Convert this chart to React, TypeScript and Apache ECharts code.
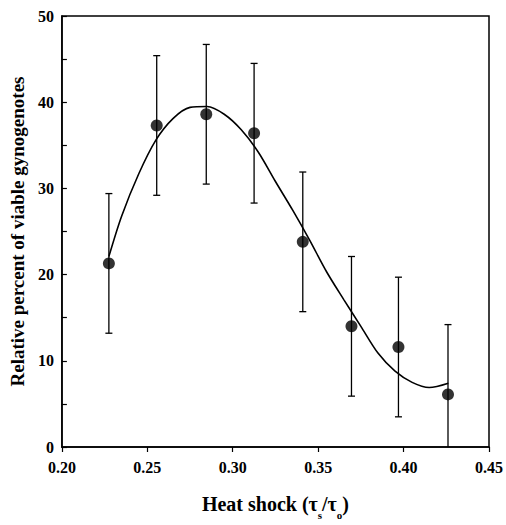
import React, { useEffect, useRef } from "react";
import * as echarts from "echarts";

// Heat shock (tau_s / tau_o) values of the measured points
const heatShock = [0.2275, 0.2555, 0.2845, 0.3125, 0.341, 0.3695, 0.397, 0.426];
// Relative percent of viable gynogenotes
const viable = [21.3, 37.3, 38.6, 36.4, 23.8, 14.0, 11.6, 6.1];
// Error bar half-widths
const errors = [8.1, 8.1, 8.1, 8.1, 8.1, 8.1, 8.1, 8.1];

// Fitted curve
const curveX = [0.2275, 0.235, 0.245, 0.255, 0.265, 0.275, 0.285, 0.295, 0.305, 0.315, 0.325, 0.335, 0.345, 0.355, 0.365, 0.375, 0.385, 0.395, 0.405, 0.415, 0.4262];
const curveY = [22.1, 26.8, 31.7, 35.6, 38.1, 39.4, 39.5, 38.6, 36.8, 34.2, 30.8, 27.5, 24.0, 20.3, 17.1, 14.0, 10.9, 8.8, 7.5, 6.9, 7.4];

const xTicks = [0.2, 0.25, 0.3, 0.35, 0.4, 0.45];
const yTicks = [0, 10, 20, 30, 40, 50];

const FONT = "Liberation Serif";

export default function App() {
  const ref = useRef<HTMLDivElement>(null);
  useEffect(() => {
    if (!ref.current) return;
    const chart = echarts.init(ref.current, null, { renderer: "svg" });
    const errData = heatShock.map((x, i) => [x, viable[i] - errors[i], viable[i] + errors[i]]);
    const curveData = curveX.map((x, i) => [x, curveY[i]]);
    const pts = heatShock.map((x, i) => [x, viable[i]]);
    chart.setOption({
      animation: false,
      backgroundColor: "#fff",
      grid: {
        left: 61,
        right: 17,
        top: 16,
        bottom: 77,
        show: true,
        borderColor: "#000",
        borderWidth: 1.5,
        backgroundColor: "transparent",
      },
      xAxis: {
        type: "value",
        min: xTicks[0],
        max: xTicks[xTicks.length - 1],
        interval: 0.05,
        name: "{m|Heat shock (τ}{s|s}{m|/τ}{s|o}{m|)}",
        nameLocation: "middle",
        nameGap: 41,
        nameTextStyle: {
          rich: {
            m: { fontFamily: FONT, fontWeight: "bold", fontSize: 20, color: "#000", lineHeight: 30, verticalAlign: "middle" },
            s: { fontFamily: FONT, fontWeight: "bold", fontSize: 11, color: "#000", lineHeight: 32, verticalAlign: "bottom" },
          },
        },
        axisLine: { show: true, lineStyle: { color: "#000", width: 1.5 } },
        axisTick: { show: true, inside: false, length: 5, lineStyle: { color: "#000", width: 1.2 } },
        splitLine: { show: false },
        axisLabel: {
          margin: 12,
          fontFamily: FONT,
          fontWeight: "bold",
          fontSize: 16,
          color: "#000",
          formatter: (v: number) => v.toFixed(2),
        },
      },
      yAxis: {
        type: "value",
        min: yTicks[0],
        max: yTicks[yTicks.length - 1],
        interval: 5,
        name: "Relative percent of viable gynogenotes",
        nameLocation: "middle",
        nameGap: 34,
        nameTextStyle: { fontFamily: FONT, fontWeight: "bold", fontSize: 19, color: "#000" },
        axisLine: { show: true, lineStyle: { color: "#000", width: 1.5 } },
        axisTick: { show: true, inside: true, length: 5, lineStyle: { color: "#000", width: 1.2 } },
        splitLine: { show: false },
        axisLabel: {
          margin: 8,
          fontFamily: FONT,
          fontWeight: "bold",
          fontSize: 16,
          color: "#000",
          formatter: (v: number) => (yTicks.indexOf(v) >= 0 ? String(v) : ""),
        },
      },
      series: [
        {
          type: "custom",
          clip: true,
          data: errData,
          renderItem: (params: any, api: any) => {
            const x = api.value(0);
            const lo = api.coord([x, api.value(1)]);
            const hi = api.coord([x, api.value(2)]);
            const hw = 3.5;
            const style = { stroke: "#000", lineWidth: 1.3 };
            return {
              type: "group",
              children: [
                { type: "line", shape: { x1: lo[0], y1: lo[1], x2: hi[0], y2: hi[1] }, style },
                { type: "line", shape: { x1: hi[0] - hw, y1: hi[1], x2: hi[0] + hw, y2: hi[1] }, style },
                { type: "line", shape: { x1: lo[0] - hw, y1: lo[1], x2: lo[0] + hw, y2: lo[1] }, style },
              ],
            };
          },
          z: 2,
        },
        {
          type: "line",
          data: curveData,
          smooth: 0.3,
          showSymbol: false,
          lineStyle: { color: "#000", width: 1.6 },
          z: 3,
        },
        {
          type: "scatter",
          data: pts,
          symbol: "circle",
          symbolSize: 12,
          itemStyle: { color: "#000" },
          z: 4,
        },
      ],
    });
    return () => chart.dispose();
  }, []);
  return <div ref={ref} style={{ position: "fixed", left: 0, top: 0, width: 506, height: 525 }} />;
}
